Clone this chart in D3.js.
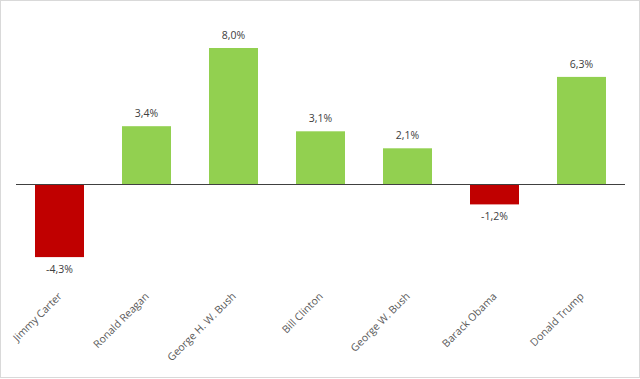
<!DOCTYPE html>
<html><head><meta charset="utf-8">
<script src="https://cdn.jsdelivr.net/npm/d3@7"></script>
<style>body{margin:0;background:#fff}svg{display:block}</style>
</head><body>
<script>
const categories = ["Jimmy Carter","Ronald Reagan","George H. W. Bush","Bill Clinton","George W. Bush","Barack Obama","Donald Trump"];
const values = [-4.3, 3.4, 8.0, 3.1, 2.1, -1.2, 6.3];
const yDomain = [-6, 10];

const W = 640, H = 379;
const svg = d3.select("body").append("svg").attr("width", W).attr("height", H);
svg.append("rect").attr("x",0.5).attr("y",0.5).attr("width",W-1).attr("height",377)
  .attr("fill","#fff").attr("stroke","#d9d9d9");

const pi = 38/87;
const x = d3.scaleBand().domain(categories).range([16, 625]).paddingInner(pi).paddingOuter(pi/2);
const y = d3.scaleLinear().domain(yDomain).range([184 + 6*17, 184 - 10*17]);
const fmt = v => v.toFixed(1).replace(".", ",") + "%";

svg.selectAll("rect.bar").data(values).join("rect").attr("class","bar")
  .attr("x",(d,i)=>x(categories[i]))
  .attr("width",x.bandwidth())
  .attr("y",d=>y(Math.max(0,d)))
  .attr("height",d=>Math.abs(y(d)-y(0)))
  .attr("fill",d=>d<0?"#C00000":"#92D050");

svg.append("line").attr("x1",16).attr("x2",625).attr("y1",y(0)+0.5).attr("y2",y(0)+0.5)
  .attr("stroke","#404040").attr("stroke-width",1);

svg.selectAll("text.val").data(values).join("text").attr("class","val")
  .attr("x",(d,i)=>x(categories[i])+x.bandwidth()/2)
  .attr("y",d=>d>=0?y(d)-9:y(d)+16)
  .attr("text-anchor","middle")
  .attr("font-family","Open Sans, sans-serif").attr("font-size",10.5)
  .attr("fill","#404040").text(fmt);

svg.selectAll("text.cat").data(categories).join("text").attr("class","cat")
  .attr("transform",d=>`translate(${x(d)+x.bandwidth()/2+3},297) rotate(-45)`)
  .attr("text-anchor","end")
  .attr("font-family","Open Sans, sans-serif").attr("font-size",10.5)
  .attr("fill","#595959").text(d=>d);
</script>
</body></html>
